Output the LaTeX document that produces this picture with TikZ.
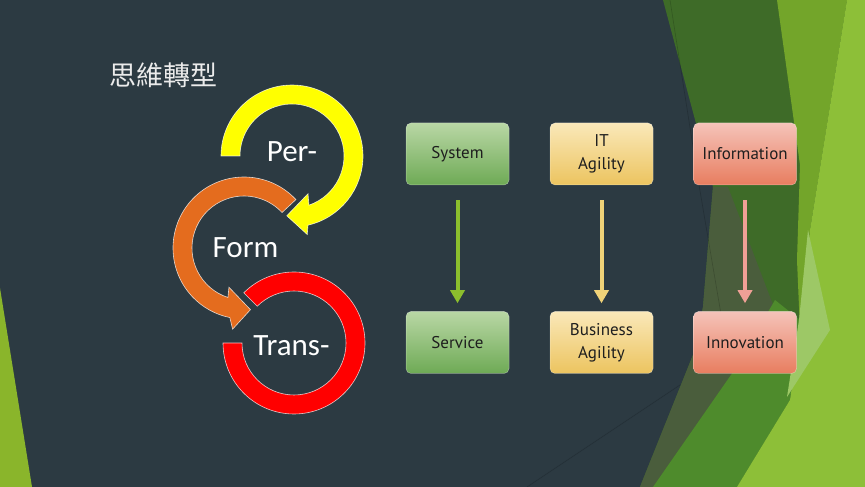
\documentclass[tikz,border=0pt]{standalone}
\usepackage{fontspec}
\setmainfont{Carlito}
\newfontfamily\boxfont{PT Sans}
\newfontfamily\cjk{Noto Sans CJK TC}
\usetikzlibrary{calc,arrows.meta}
\definecolor{slate}{HTML}{2C3A42}
\definecolor{dgreen}{HTML}{3E6B28}
\definecolor{olive}{HTML}{4A5D3C}
\definecolor{mgreen}{HTML}{4E8B2C}
\definecolor{mlgreen}{HTML}{73A52A}
\definecolor{lgreen}{HTML}{8DBF38}
\definecolor{pgreen}{HTML}{9DC866}
\definecolor{leftgreen}{HTML}{8AB52B}
\definecolor{ringY}{HTML}{FFFF00}
\definecolor{ringO}{HTML}{E46C1E}
\definecolor{ringR}{HTML}{FF0000}
\definecolor{gTop}{HTML}{B9D7A5}
\definecolor{gBot}{HTML}{6EAA55}
\definecolor{yTop}{HTML}{FAE8B9}
\definecolor{yBot}{HTML}{ECC45F}
\definecolor{rTop}{HTML}{F5C3B9}
\definecolor{rBot}{HTML}{E87D5F}
\definecolor{arrG}{HTML}{8CBE2D}
\definecolor{arrY}{HTML}{F0D278}
\definecolor{arrR}{HTML}{F0A096}
\definecolor{boxtext}{HTML}{1E1E1E}
\tikzset{
  ringshape/.style={draw=white, draw opacity=0.75, line width=0.6pt},
  ringtext/.style={text=white, font=\fontsize{31}{37}\selectfont, inner sep=0pt},
  cbox/.style={rounded corners=5pt, minimum width=103pt, minimum height=62pt,
    inner sep=2pt, align=center, text=boxtext, draw=white, draw opacity=0.4, line width=0.5pt,
    font=\boxfont\fontsize{17}{23}\selectfont},
  gbox/.style={cbox, top color=gTop, bottom color=gBot},
  ybox/.style={cbox, top color=yTop, bottom color=yBot},
  rbox/.style={cbox, top color=rTop, bottom color=rBot},
  flowarrow/.style={line width=4pt, -{Triangle[width=14pt,length=13pt]}, shorten <=15pt, shorten >=8pt}
}
\begin{document}
\begin{tikzpicture}[x=1pt,y=1pt]
\useasboundingbox (0,0) rectangle (865,487);
% background
\fill[slate] (0,0) rectangle (865,487);
\fill[leftgreen] (0,199) -- (0,0) -- (32,0) -- cycle;
% right facets
\fill[dgreen] (663,487) -- (865,487) -- (865,0) -- (640,0) -- (695,137) -- (703,180) -- (713,300) -- cycle;
\fill[olive] (713,300) -- (728,300) -- (775,177) -- (733,115) -- (653,0) -- (640,0) -- (695,137) -- (703,180) -- cycle;
\fill[mgreen] (775,187) -- (800,167) -- (790,87) -- (737,0) -- (653,0) -- (733,115) -- cycle;
\fill[mlgreen] (777,487) -- (847,487) -- (810,257) -- (800,157) -- (797,227) -- (800,322) -- cycle;
\fill[lgreen] (847,487) -- (865,487) -- (865,0) -- (737,0) -- (790,87) -- (800,157) -- (810,257) -- cycle;
\fill[pgreen] (808,257) -- (830,157) -- (787,90) -- (799,167) -- cycle;
\draw[black, opacity=0.18, line width=0.6pt] (670,487) -- (699,302) -- (722,167);
\draw[black, opacity=0.18, line width=0.6pt] (680,102) -- (527,0);
% title
\node[text=white!92!black, font=\cjk\fontsize{27}{32}\selectfont, inner sep=0pt] (title) at (163,412) {思維轉型};
% circular arrows
\coordinate (yc) at (292,331);
\coordinate (oc) at (244,239);
\coordinate (rc) at (294,144);
\fill[ringR, ringshape] ($(rc)+(135:71)$) arc[start angle=135, end angle=-180, radius=71]
  -- ($(rc)+(180:52)$) arc[start angle=-180, end angle=135, radius=52] -- cycle;
\fill[ringO, ringshape] ($(oc)+(43:71)$) arc[start angle=43, end angle=258.5, radius=71]
  -- ($(oc)+(262:82)$) -- ($(oc)+(276:62)$) -- ($(oc)+(249:42)$) -- ($(oc)+(252:52)$)
  arc[start angle=252, end angle=43, radius=52] -- cycle;
\fill[ringY, ringshape] ($(yc)+(180:71)$) arc[start angle=180, end angle=-77, radius=71]
  -- ($(yc)+(-79:80)$) -- ($(yc)+(-95:60)$) -- ($(yc)+(-67:41)$) -- ($(yc)+(-71:52)$)
  arc[start angle=-71, end angle=180, radius=52] -- cycle;
\node[ringtext] (per) at (292,335) {Per-};
\node[ringtext] (form) at (245.5,239) {Form};
\node[ringtext] (trans) at (291.5,141) {Trans-};
% boxes
\node[gbox] (system) at (457.5,333) {System};
\node[ybox] (itag) at (601.5,333) {IT\\Agility};
\node[rbox] (info) at (745,333) {Information};
\node[gbox] (service) at (457.5,144.5) {Service};
\node[ybox] (busag) at (601.5,144.5) {Business\\Agility};
\node[rbox] (innov) at (745,144.5) {Innovation};
\draw[flowarrow, arrG] (system.south) -- (service.north);
\draw[flowarrow, arrY] (itag.south) -- (busag.north);
\draw[flowarrow, arrR] (info.south) -- (innov.north);
\end{tikzpicture}
\end{document}
